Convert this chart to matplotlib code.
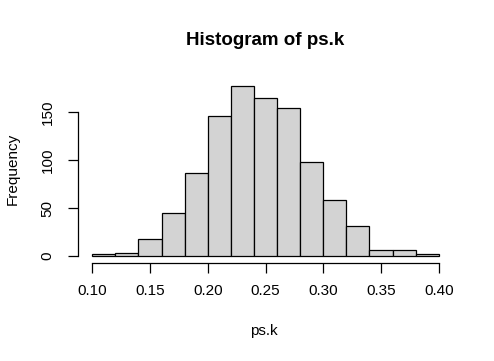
import numpy as np
import matplotlib
matplotlib.use("Agg")
import matplotlib.pyplot as plt

# bin edges and counts
bin_edges = np.round(np.arange(0.10, 0.4001, 0.02), 2)
counts = [2, 3, 18, 45, 87, 146, 178, 165, 155, 98, 58, 31, 6, 6, 2]
x_ticks = [0.10, 0.15, 0.20, 0.25, 0.30, 0.35, 0.40]
x_tick_labels = ["0.10", "0.15", "0.20", "0.25", "0.30", "0.35", "0.40"]
y_ticks = [0, 50, 100, 150]

plt.rcParams['font.family'] = ['Liberation Sans', 'DejaVu Sans']

fig = plt.figure(figsize=(4.94, 3.61), dpi=100)
ax = fig.add_axes([0.1587, 0.2720, 0.9162 - 0.1587, 0.782 - 0.2720])

ax.hist(bin_edges[:-1], bins=bin_edges, weights=counts,
        color="#D3D3D3", edgecolor="black", linewidth=0.9)

# R style: 4% padding around data range
xr = bin_edges[-1] - bin_edges[0]
ax.set_xlim(bin_edges[0] - 0.04 * xr, bin_edges[-1] + 0.04 * xr)
ymax = max(counts)
ax.set_ylim(-0.04 * ymax, ymax * 1.04)

for s in ["top", "right"]:
    ax.spines[s].set_visible(False)
ax.spines["left"].set_bounds(0, 150)
ax.spines["bottom"].set_bounds(0.10, 0.40)
ax.spines["left"].set_linewidth(0.9)
ax.spines["bottom"].set_linewidth(0.9)

ax.set_xticks(x_ticks)
ax.set_xticklabels(x_tick_labels)
ax.set_yticks(y_ticks)
ax.set_yticklabels([str(v) for v in y_ticks], rotation=90, va="center")
ax.tick_params(axis="both", length=7, width=0.9, labelsize=11)
ax.tick_params(axis="x", pad=8)
ax.tick_params(axis="y", pad=10)

fig.text(0.5345, 0.0831, "ps.k", fontsize=11, ha="center", va="center")
fig.text(0.0263, 0.5313, "Frequency", fontsize=11, rotation=90,
         ha="center", va="center")
fig.text(0.5375, 0.8878, "Histogram of ps.k", fontsize=13.5,
         fontweight="bold", ha="center", va="center")

fig.savefig("out.png", dpi=100)
